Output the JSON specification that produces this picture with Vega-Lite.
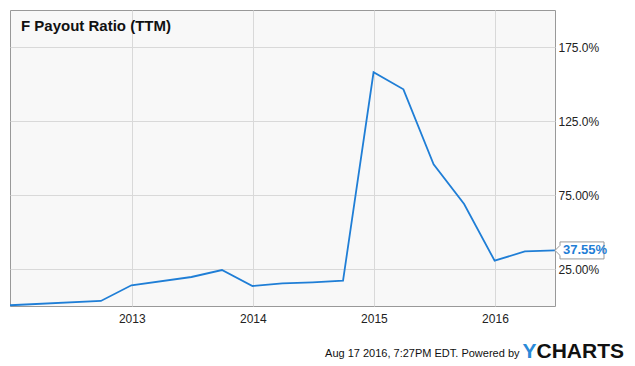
{
  "$schema": "https://vega.github.io/schema/vega-lite/v6.json",
  "width": 545,
  "height": 296,
  "autosize": "none",
  "padding": {"left": 10, "top": 10, "right": 80, "bottom": 60},
  "background": "white",
  "title": {
    "text": "F Payout Ratio (TTM)",
    "anchor": "start",
    "frame": "group",
    "orient": "top",
    "offset": -21,
    "dx": 11,
    "dy": 15,
    "baseline": "alphabetic",
    "fontSize": 15,
    "fontWeight": "bold",
    "color": "#111111",
    "font": "Liberation Sans"
  },
  "data": {
    "values": [
      {"date": "2011-12-31", "value": 0.5},
      {"date": "2012-09-30", "value": 3.4},
      {"date": "2012-12-31", "value": 14.0},
      {"date": "2013-06-30", "value": 19.6},
      {"date": "2013-09-30", "value": 24.3},
      {"date": "2013-12-31", "value": 13.5},
      {"date": "2014-03-31", "value": 15.3},
      {"date": "2014-06-30", "value": 16.0},
      {"date": "2014-09-30", "value": 17.1},
      {"date": "2014-12-31", "value": 157.9},
      {"date": "2015-03-31", "value": 146.4},
      {"date": "2015-06-30", "value": 95.7},
      {"date": "2015-09-30", "value": 68.9},
      {"date": "2015-12-31", "value": 30.6},
      {"date": "2016-03-31", "value": 36.9},
      {"date": "2016-06-30", "value": 37.55}
    ]
  },
  "layer": [
    {
      "mark": {"type": "line", "color": "#1f7ed6", "strokeWidth": 1.8, "clip": false},
      "encoding": {
        "x": {
          "field": "date",
          "type": "temporal",
          "scale": {"domain": ["2011-12-31", "2016-06-30"], "nice": false},
          "axis": {
            "values": [{"year": 2013, "month": 1, "date": 1}, {"year": 2014, "month": 1, "date": 1}, {"year": 2015, "month": 1, "date": 1}, {"year": 2016, "month": 1, "date": 1}],
            "format": "%Y",
            "grid": true,
            "gridColor": "#d9d9d9",
            "ticks": false,
            "domain": false,
            "labelPadding": 7,
            "labelFontSize": 12,
            "labelColor": "#222222",
            "labelFont": "Liberation Sans",
            "title": "Aug 17 2016, 7:27PM EDT.  Powered by",
            "titleFont": "Liberation Sans",
            "titleFontSize": 11,
            "titleFontWeight": "normal",
            "titleColor": "#111111",
            "titleAnchor": "end",
            "titleAlign": "right",
            "titleBaseline": "alphabetic",
            "titleX": 509,
            "titleY": 50
          }
        },
        "y": {
          "field": "value",
          "type": "quantitative",
          "scale": {"domain": [0, 200], "nice": false},
          "axis": {
            "orient": "right",
            "values": [25, 75, 125, 175],
            "labelExpr": "datum.value >= 100 ? format(datum.value, '.1f') + '%' : format(datum.value, '.2f') + '%'",
            "grid": true,
            "gridColor": "#d9d9d9",
            "ticks": false,
            "domain": false,
            "labelPadding": 3,
            "labelFontSize": 12,
            "labelColor": "#222222",
            "labelFont": "Liberation Sans",
            "title": "CHARTS",
            "titleFont": "Liberation Sans",
            "titleFontSize": 21,
            "titleFontWeight": "bold",
            "titleColor": "#111111",
            "titleAngle": 0,
            "titleAlign": "left",
            "titleBaseline": "alphabetic",
            "titleX": -19,
            "titleY": 347
          }
        }
      }
    },
    {
      "transform": [
        {"filter": "datum.value == 37.55"},
        {"calculate": "format(datum.value, '.2f') + '%'", "as": "label"}
      ],
      "encoding": {
        "x": {"field": "date", "type": "temporal"},
        "y": {
          "field": "value",
          "type": "quantitative",
          "scale": {"domain": [0, 200], "nice": false},
          "axis": {
            "orient": "left",
            "labels": false,
            "ticks": false,
            "domain": false,
            "grid": false,
            "title": "Y",
            "titleFont": "Liberation Sans",
            "titleFontSize": 21,
            "titleFontWeight": "bold",
            "titleColor": "#2a8ad8",
            "titleAngle": 0,
            "titleAlign": "left",
            "titleBaseline": "alphabetic",
            "titleX": 512,
            "titleY": 347
          }
        }
      },
      "layer": [
        {
          "mark": {
            "type": "point",
            "shape": "M0,0 L0.25,-0.25 L0.25,-0.425 L2.45,-0.425 L2.45,0.425 L0.25,0.425 L0.25,0.25 Z",
            "size": 1600,
            "filled": true,
            "fill": "white",
            "stroke": "#999999",
            "strokeWidth": 1,
            "opacity": 1
          }
        },
        {
          "mark": {
            "type": "text",
            "align": "left",
            "baseline": "middle",
            "dx": 8,
            "fontSize": 13,
            "fontWeight": "bold",
            "font": "Liberation Sans",
            "color": "#1f7ed6"
          },
          "encoding": {"text": {"field": "label"}}
        }
      ]
    }
  ],
  "resolve": {"scale": {"y": "independent"}},
  "config": {
    "view": {"fill": "#f8f8f8", "stroke": "#999999"}
  }
}
